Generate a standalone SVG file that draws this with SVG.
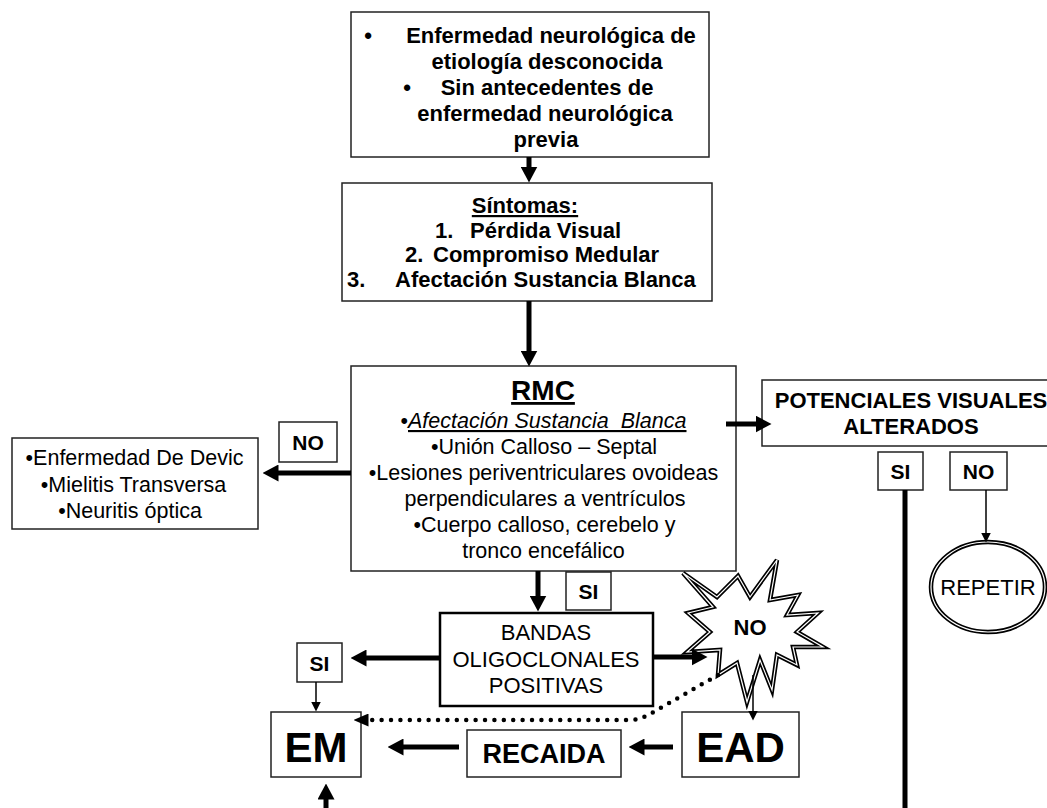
<svg xmlns="http://www.w3.org/2000/svg" width="1047" height="808" viewBox="0 0 1047 808">
<style>
text{font-family:"Liberation Sans",Arial,Helvetica,sans-serif;fill:#000}
.b{font-weight:bold}
.c{text-anchor:middle}
.f22{font-size:22px}
.f21{font-size:21.5px}
.s20{font-size:21px}
.u{text-decoration:underline}
.box{fill:#fff;stroke:#222;stroke-width:1.5}
.thick{stroke:#000;stroke-width:5;fill:none}
.thin{stroke:#000;stroke-width:1.5;fill:none}
.dot{stroke:#000;stroke-width:4.5;stroke-linecap:round;stroke-dasharray:0 9.4;fill:none}
.dbl-o{stroke:#000;stroke-width:4.5;fill:#fff;stroke-linejoin:miter}
.dbl-i{stroke:#fff;stroke-width:1.2;fill:none}
</style>
<defs>
<marker id="ah" markerUnits="userSpaceOnUse" markerWidth="16" markerHeight="17" viewBox="0 0 16 17" refX="0.5" refY="8.5" orient="auto"><path d="M0,0 L16,8.5 L0,17 z" fill="#000"/></marker>
<marker id="at" markerUnits="userSpaceOnUse" markerWidth="10" markerHeight="10" viewBox="0 0 10 10" refX="0.5" refY="5" orient="auto"><path d="M0,0 L10,5 L0,10 z" fill="#000"/></marker>
<marker id="ad" markerUnits="userSpaceOnUse" markerWidth="15" markerHeight="13" viewBox="0 0 15 13" refX="0.5" refY="6.5" orient="auto"><path d="M0,0 L15,6.5 L0,13 z" fill="#000"/></marker>
</defs>

<g id="n-inicio">
<rect class="box" x="351" y="12" width="358" height="145"/>
<text class="b f22" x="368" y="43" text-anchor="middle">•</text>
<text class="b f22 c" x="551" y="43">Enfermedad neurológica de</text>
<text class="b f22 c" x="547" y="69">etiología desconocida</text>
<text class="b f22" x="407" y="95" text-anchor="middle">•</text>
<text class="b f22 c" x="547" y="95">Sin antecedentes de</text>
<text class="b f22 c" x="545" y="121">enfermedad neurológica</text>
<text class="b f22 c" x="546" y="147">previa</text>
</g>

<g id="n-sintomas">
<rect class="box" x="342" y="183" width="370" height="118"/>
<text class="b f22 c u" x="525" y="213">Síntomas:</text>
<text class="b f22" x="435" y="238">1.</text>
<text class="b f22" x="470" y="238">Pérdida Visual</text>
<text class="b f22" x="405" y="262">2.</text>
<text class="b f22" x="433" y="262">Compromiso Medular</text>
<text class="b f22" x="347" y="287">3.</text>
<text class="b f22" x="395" y="287">Afectación Sustancia Blanca</text>
</g>

<g id="n-rmc">
<rect class="box" x="351" y="366" width="385" height="205"/>
<text class="b c u" x="543" y="400" font-size="28">RMC</text>
<text class="f21 c" x="543.5" y="428" xml:space="preserve">•<tspan font-style="italic" text-decoration="underline">Afectación Sustancia  Blanca</tspan></text>
<text class="f21 c" x="544" y="454">•Unión Calloso – Septal</text>
<text class="f21 c" x="543.5" y="480">•Lesiones periventriculares ovoideas</text>
<text class="f21 c" x="545" y="506">perpendiculares a ventrículos</text>
<text class="f21 c" x="544.5" y="532">•Cuerpo calloso, cerebelo y</text>
<text class="f21 c" x="543.5" y="558">tronco encefálico</text>
</g>

<g id="n-diferencial">
<rect class="box" x="12" y="438" width="246" height="91"/>
<text class="f21 c" x="134.5" y="465">•Enfermedad De Devic</text>
<text class="f21 c" x="133.5" y="492">•Mielitis Transversa</text>
<text class="f21 c" x="130" y="518">•Neuritis óptica</text>
</g>

<g id="n-no-rmc">
<rect class="box" x="279" y="422" width="58" height="40"/>
<text class="b s20 c" x="308" y="450">NO</text>
</g>

<g id="n-potenciales">
<rect class="box" x="762" y="380" width="300" height="66"/>
<text class="b f22 c" x="911" y="408">POTENCIALES VISUALES</text>
<text class="b f22 c" x="911" y="434">ALTERADOS</text>
</g>

<g id="n-si-pev">
<rect class="box" x="878" y="452" width="45" height="38"/>
<text class="b s20 c" x="900.5" y="479">SI</text>
</g>

<g id="n-no-pev">
<rect class="box" x="950" y="452" width="57" height="38"/>
<text class="b s20 c" x="978.5" y="479">NO</text>
</g>

<g id="n-repetir">
<ellipse class="dbl-o" cx="988" cy="587" rx="57" ry="45"/>
<ellipse class="dbl-i" cx="988" cy="587" rx="57" ry="45"/>
<text class="f22 c" x="988" y="595">REPETIR</text>
</g>

<g id="n-si-rmc">
<rect class="box" x="566" y="572" width="45" height="38"/>
<text class="b s20 c" x="588.5" y="599">SI</text>
</g>

<g id="n-bandas">
<rect x="440" y="613" width="213" height="93" fill="#fff" stroke="#000" stroke-width="2.5"/>
<text class="f22 c" x="546" y="640">BANDAS</text>
<text class="f22 c" x="546" y="667">OLIGOCLONALES</text>
<text class="f22 c" x="546" y="693">POSITIVAS</text>
</g>

<g id="n-no-bandas">
<polygon class="dbl-o" points="683,573 717,597 738,576 750,597 777,560 770,600 798,595 787,615 818,613 797,632 823,647 793,647 797,665 777,655 772,690 760,660 747,702 737,663 718,675 720,650 687,652 710,632 688,613 713,607"/>
<polygon class="dbl-i" points="683,573 717,597 738,576 750,597 777,560 770,600 798,595 787,615 818,613 797,632 823,647 793,647 797,665 777,655 772,690 760,660 747,702 737,663 718,675 720,650 687,652 710,632 688,613 713,607"/>
<text class="b f22 c" x="750" y="635">NO</text>
</g>

<g id="n-si-bandas">
<rect class="box" x="297" y="643" width="45" height="39"/>
<text class="b s20 c" x="319.5" y="671">SI</text>
</g>

<g id="n-em">
<rect class="box" x="271" y="712" width="90" height="65"/>
<text class="b c" x="316" y="762" font-size="42">EM</text>
</g>

<g id="n-recaida">
<rect class="box" x="467" y="730" width="154" height="47"/>
<text class="b c" x="544" y="763" font-size="27">RECAIDA</text>
</g>

<g id="n-ead">
<rect class="box" x="682" y="712" width="117" height="65"/>
<text class="b c" x="740.5" y="762" font-size="42">EAD</text>
</g>

<g id="connectors">
<path class="thick" d="M529,157 V167" marker-end="url(#ah)"/>
<path class="thick" d="M529,301 V351" marker-end="url(#ah)"/>
<path class="thick" d="M351,473 H278" marker-end="url(#ah)"/>
<path class="thick" d="M726,424 H756" marker-end="url(#ah)"/>
<path class="thick" d="M538,571 V596" marker-end="url(#ah)"/>
<path class="thick" d="M440,658 H366" marker-end="url(#ah)"/>
<path class="thick" d="M653,657 H692" marker-end="url(#ah)"/>
<path class="thick" d="M459,747 H403" marker-end="url(#ah)"/>
<path class="thick" d="M673,747 H644" marker-end="url(#ah)"/>
<path class="thick" d="M326,808 V799" marker-end="url(#ah)"/>
<path class="thick" d="M905,490 V808"/>
<path class="thin" d="M986,490 V533" marker-end="url(#at)"/>
<path class="thin" d="M316,682 V702" marker-end="url(#at)"/>
<path class="thin" d="M753,675 V711" marker-end="url(#at)"/>
<path class="dot" d="M718,675 L650,714 Q640,720 628,720 L368,720" marker-end="url(#ad)"/>
</g>
</svg>
